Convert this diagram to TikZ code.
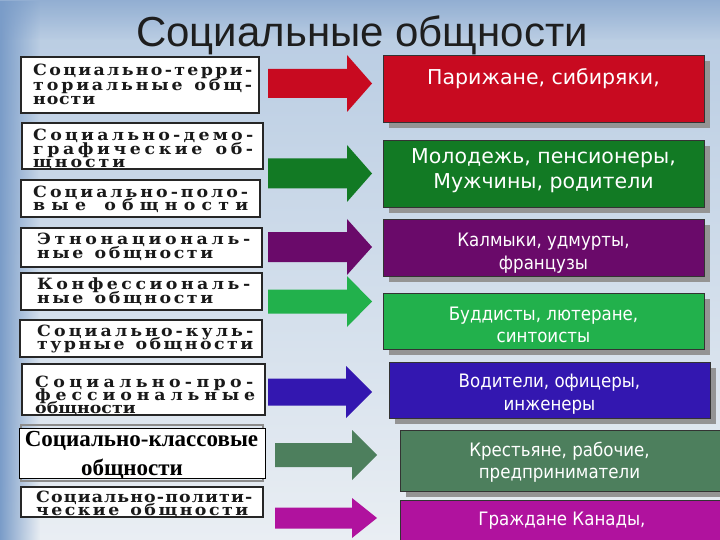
\documentclass[tikz,border=0pt]{standalone}
\usepackage{fontspec}
\setmainfont{DejaVu Sans}
\newfontfamily\titlefont{Liberation Sans}
\newfontfamily\verdfont{DejaVu Sans}
\newfontfamily\tahfont{DejaVu Sans Condensed}
\newfontfamily\bookfont[FakeStretch=1.12]{DejaVu Serif}
\newfontfamily\timesfont{Liberation Serif}
\usetikzlibrary{fadings}
\definecolor{bgA}{HTML}{B7CBE2}
\definecolor{bgB}{HTML}{E9EEF3}
\definecolor{bgL}{HTML}{7A9CC8}
\definecolor{cRed}{HTML}{C80A20}
\definecolor{cGreen}{HTML}{127A24}
\definecolor{cPurple}{HTML}{6A0A6A}
\definecolor{cLGreen}{HTML}{22B14C}
\definecolor{cBlue}{HTML}{3317B0}
\definecolor{cGGreen}{HTML}{4D7F5D}
\definecolor{cMag}{HTML}{B0129E}
\definecolor{titlec}{HTML}{1E1E1E}
% spread the letters of a line over a given width
\def\spr#1#2{\hbox to #1{\sprA#2\relax}}
\def\sprA#1{#1\sprB}
\def\sprB#1{\ifx#1\relax\else\hfil#1\expandafter\sprB\fi}
% stack of lines, baseline = first line
\newcommand\stk[2]{\vtop{\baselineskip=#1pt\lineskiplimit=-50pt\lineskip=0pt #2}}
% box node from corners
\newcommand\bx[6]{\node[#2, minimum width={#5-#3}, minimum height={#6-#4}, inner sep=0pt] (#1) at ({(#3+#5)/2},{(#4+#6)/2}) {};}
\newcommand\rbx[6]{\fill[shad] (#3+6,#4+6) rectangle (#5+6,#6+6);
  \node[rbox, fill=#2, minimum width={#5-#3}, minimum height={#6-#4}, inner sep=0pt] (#1) at ({(#3+#5)/2},{(#4+#6)/2}) {};}
% block arrow: name, colour, x0, x1, xtip, ymid, shaft half, head half
\newcommand\barrow[8]{\coordinate (#1) at (#3,#6);
  \fill[#2] (#1) ++(0,-#7) -- (#4,#6-#7) -- (#4,#6-#8) -- (#5,#6) -- (#4,#6+#8) -- (#4,#6+#7) -- (#3,#6+#7) -- cycle;}
\begin{document}
\begin{tikzpicture}[x=1pt,y=-1pt,
  lbox/.style={draw=black!85, line width=1.2pt, fill=white},
  rbox/.style={draw=black!80, line width=0.6pt},
  shad/.style={fill=black!42},
  ltxt/.style={anchor=base west, inner sep=0pt, font=\bookfont\bfseries\fontsize{15.5}{14}\selectfont, text=black!90},
  ctxt/.style={anchor=base, inner sep=0pt, font=\timesfont\bfseries\fontsize{23}{23}\selectfont, text=black},
  vtxt/.style={anchor=base, inner sep=0pt, font=\verdfont\fontsize{20.5}{24}\selectfont, text=white},
  ttxt/.style={anchor=base, inner sep=0pt, font=\tahfont\fontsize{18.5}{22}\selectfont, text=white}]
\useasboundingbox (0,0) rectangle (720,540);
% background
\shade[top color=bgA, bottom color=bgB] (0,0) rectangle (720,540);
\fill[bgL, path fading=east] (0,0) rectangle (40,540);
\fill[bgL, path fading=south, opacity=0.6] (0,0) rectangle (720,40);
% title
\node[anchor=base, inner sep=0pt, font=\titlefont\fontsize{42}{46}\selectfont, text=titlec] (title) at (362,47) {Социальные общности};
% left boxes
\bx{l1}{lbox}{21}{57}{259}{113}
\bx{l2}{lbox}{22}{123}{263}{169}
\bx{l3}{lbox}{21}{180}{260}{217}
\bx{l4}{lbox}{21}{228}{262}{267}
\bx{l5}{lbox}{21}{273}{262}{310}
\bx{l6}{lbox}{20}{320}{262}{357}
\bx{l7}{lbox}{22}{364}{265}{415}
\draw[black!45, line width=1.2pt] (21,425) rectangle (263,481);
\bx{l8}{draw=black, line width=0.8pt, fill=white}{19}{428}{265}{478}
\bx{l9}{lbox}{21}{487}{263}{517}
% left texts
\node[ltxt] (l1t) at (33,76) {\stk{14.5}{\spr{219pt}{Социально-терри-}\spr{219pt}{ториальные~общ-}\spr{62pt}{ности}}};
\node[ltxt] (l2t) at (33,140.5) {\stk{13.7}{\spr{220pt}{Социально-демо-}\spr{220pt}{графические~об-}\spr{92pt}{щности}}};
\node[ltxt] (l3t) at (33,197) {\stk{13.5}{\spr{215pt}{Социально-поло-}\spr{215pt}{вые~общности}}};
\node[ltxt] (l4t) at (37,244) {\stk{14.5}{\spr{213pt}{Этнонациональ-}\spr{176pt}{ные~общности}}};
\node[ltxt] (l5t) at (37,289) {\stk{14.5}{\spr{213pt}{Конфессиональ-}\spr{176pt}{ные~общности}}};
\node[ltxt] (l6t) at (37,336) {\stk{13.5}{\spr{216pt}{Социально-куль-}\spr{216pt}{турные~общности}}};
\node[ltxt] (l7t) at (35,387) {\stk{13}{\spr{218pt}{Социально-про-}\spr{220pt}{фессиональные}\spr{100pt}{общности}}};
\node[ctxt] (l8a) at (141.5,446) {Социально-классовые};
\node[ctxt] (l8b) at (132,475) {общности};
\node[ltxt] (l9t) at (36,502) {\stk{13.5}{\spr{216pt}{Социально-полити-}\spr{212pt}{ческие~общности}}};
% arrows
\barrow{a1}{cRed}{268}{347}{372}{83.5}{14.5}{28.5}
\barrow{a2}{cGreen}{268}{347}{372}{173.5}{15}{28.5}
\barrow{a3}{cPurple}{268}{347}{372}{247}{15}{28}
\barrow{a4}{cLGreen}{268}{347}{372}{301.5}{12}{25.5}
\barrow{a5}{cBlue}{268}{346}{372}{392}{13.5}{26}
\barrow{a6}{cGGreen}{275}{352}{377}{455}{12}{25}
\barrow{a7}{cMag}{275}{352}{377}{518}{10.5}{20}
% right boxes
\rbx{r1}{cRed}{383}{55}{704}{122}
\rbx{r2}{cGreen}{383}{140}{704}{207}
\rbx{r3}{cPurple}{383}{219}{704}{276}
\rbx{r4}{cLGreen}{383}{293}{704}{349}
\rbx{r5}{cBlue}{389}{362}{710}{418}
\rbx{r6}{cGGreen}{400}{430}{721}{491}
\rbx{r7}{cMag}{400}{500}{721}{548}
% right texts
\node[vtxt] (r1a) at (543.5,85) {Парижане, сибиряки,};
\node[vtxt] (r2a) at (543.5,164) {Молодежь, пенсионеры,};
\node[vtxt] (r2b) at (543.5,189) {Мужчины, родители};
\node[ttxt] (r3a) at (543.5,246) {Калмыки, удмурты,};
\node[ttxt] (r3b) at (543.5,269) {французы};
\node[ttxt] (r4a) at (543.5,320) {Буддисты, лютеране,};
\node[ttxt] (r4b) at (543.5,342) {синтоисты};
\node[ttxt] (r5a) at (549.5,387) {Водители, офицеры,};
\node[ttxt] (r5b) at (549.5,410) {инженеры};
\node[ttxt] (r6a) at (559.5,456) {Крестьяне, рабочие,};
\node[ttxt] (r6b) at (559.5,478) {предприниматели};
\node[ttxt] (r7a) at (562,525) {Граждане Канады,};
\end{tikzpicture}
\end{document}
